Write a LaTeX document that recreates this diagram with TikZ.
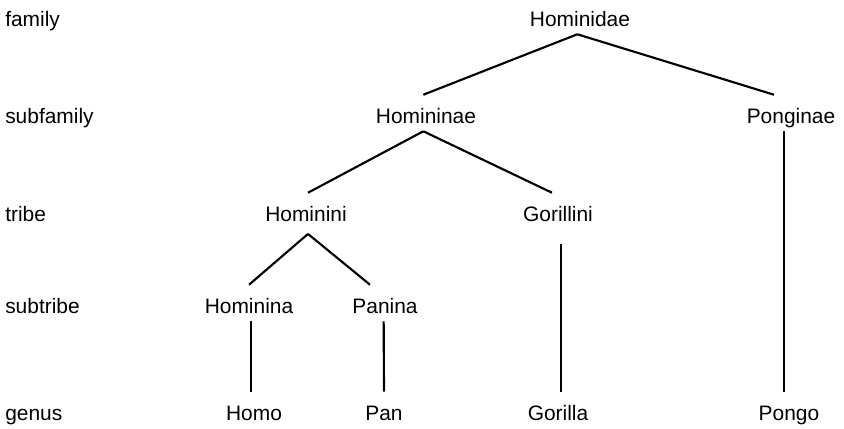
\documentclass[tikz,border=0pt]{standalone}
\usepackage{fontspec}
\setmainfont{Liberation Sans}
\usetikzlibrary{calc}

\begin{document}
\begin{tikzpicture}[
  x=0.75pt, y=-0.75pt,
  rank/.style={anchor=base west, inner sep=0pt,
               font=\fontsize{15.7}{19}\selectfont},
  taxon/.style={anchor=base, inner xsep=0pt, inner ysep=0pt,
                text height=21pt, text depth=6pt,
                font=\fontsize{15.7}{19}\selectfont},
  link/.style={line width=1.6pt, color=black}
]
\useasboundingbox (0,0) rectangle (844,429);

% rank labels
\node[rank] (lfam)    at (5,26)  {family};
\node[rank] (lsubfam) at (5,123) {subfamily};
\node[rank] (ltribe)  at (5,221) {tribe};
\node[rank] (lsubtr)  at (5,313) {subtribe};
\node[rank] (lgenus)  at (5,420) {genus};

% taxa
\node[taxon] (hominidae) at (580,26)  {Hominidae};
\node[taxon] (homininae) at (426,123) {Homininae};
\node[taxon] (ponginae)  at (791,123) {Ponginae};
\node[taxon] (hominini)  at (306,221) {Hominini};
\node[taxon] (gorillini) at (558,221) {Gorillini};
\node[taxon] (hominina)  at (249,313) {Hominina};
\node[taxon] (panina)    at (385,313) {Panina};
\node[taxon] (homo)      at (254,420) {Homo};
\node[taxon] (pan)       at (384,420) {Pan};
\node[taxon] (gorilla)   at (558,420) {Gorilla};
\node[taxon] (pongo)     at (789,420) {Pongo};

% branches
\draw[link] ([xshift=-2pt]hominidae.south) -- ([xshift=-2pt]homininae.north);
\draw[link] ([xshift=-2pt]hominidae.south) -- ([xshift=-12.75pt]ponginae.north);
\draw[link] ([xshift=-2pt]homininae.south) -- ([xshift=1.5pt]hominini.north);
\draw[link] ([xshift=-2pt]homininae.south) -- ([xshift=-4.5pt]gorillini.north);
\draw[link] ([xshift=1.5pt,yshift=-3.5pt]hominini.south) -- (hominina.north);
\draw[link] ([xshift=1.5pt,yshift=-3.5pt]hominini.south) -- ([xshift=-11.25pt]panina.north);
\draw[link] ([xshift=1.5pt]hominina.south) -- ([xshift=-2.25pt]homo.north);
\draw[link] ([xshift=-1pt]panina.south) -- (pan.north);
\draw[link] ([xshift=2.25pt,yshift=-11.25pt]gorillini.south) -- ([xshift=2.25pt]gorilla.north);
\draw[link] ([xshift=-5.25pt]ponginae.south) -- ([xshift=-3.75pt]pongo.north);

\end{tikzpicture}
\end{document}
